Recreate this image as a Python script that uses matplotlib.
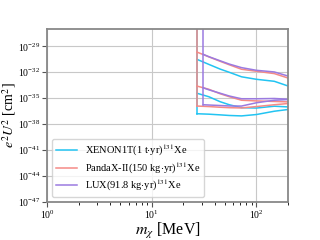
import matplotlib
matplotlib.use("Agg")
import matplotlib.pyplot as plt
from matplotlib.ticker import NullLocator

# masses in MeV and log10 of e^2 U^2 in cm^2
xenon_m = [27, 35, 45, 55, 72, 100, 148, 200]
xenon_top = [-30.50, -31.08, -31.63, -32.00, -32.52, -32.81, -33.04, -33.58]
xenon_mid = [-34.42, -34.82, -35.40, -35.75, -36.09, -36.13, -35.92, -36.00]
xenon_bot = [-36.79, -36.84, -36.92, -36.99, -37.04, -36.88, -36.50, -36.30]

panda_m = [27, 35, 45, 55, 72, 100, 148, 200]
panda_top = [-29.66, -30.21, -30.73, -31.13, -31.65, -31.88, -32.15, -32.66]
panda_mid = [-33.59, -33.96, -34.48, -34.82, -35.23, -35.31, -35.37, -35.42]
panda_bot = [-35.90, -35.96, -36.04, -36.09, -36.12, -35.96, -35.75, -35.61]

lux_m = [31, 35, 45, 55, 72, 100, 148, 200]
lux_top = [-29.92, -30.19, -30.67, -31.05, -31.46, -31.77, -31.96, -32.43]
lux_mid = [-33.79, -34.02, -34.42, -34.74, -35.06, -35.06, -35.03, -35.11]
lux_bot = [-35.75, -35.78, -35.84, -35.89, -35.90, -35.52, -35.23, -35.15]

labels = [r"XENON1T(1 t$\cdot$yr)$^{131}$Xe",
          r"PandaX-II(150 kg$\cdot$yr)$^{131}$Xe",
          r"LUX(91.8 kg$\cdot$yr)$^{131}$Xe"]
colors = ["#22c4f2", "#f58a86", "#9b7ae0"]

plt.rcParams["font.family"] = ["Liberation Serif", "DejaVu Serif"]
plt.rcParams["mathtext.fontset"] = "stix"

fig = plt.figure(figsize=(3.2, 2.4), dpi=100)
ax = fig.add_axes([0.147, 0.158, 0.753, 0.721])

sets = [
    (xenon_m, [xenon_top, xenon_mid, xenon_bot]),
    (panda_m, [panda_top, panda_mid, panda_bot]),
    (lux_m, [lux_top, lux_mid, lux_bot]),
]
for (m, curves), c, lab in zip(sets, colors, labels):
    ax.plot([m[0], m[0]], [1e-20, 10 ** curves[2][0]], color=c, lw=1.1, label=lab)
    for cv in curves:
        ax.plot(m, [10 ** v for v in cv], color=c, lw=1.1)

ax.set_xscale("log")
ax.set_yscale("log")
ax.set_xlim(1, 200)
ax.set_ylim(1e-47, 1e-27)
ax.set_yticks([1e-47, 1e-44, 1e-41, 1e-38, 1e-35, 1e-32, 1e-29])
ax.yaxis.set_minor_locator(NullLocator())
ax.grid(True, which="major", color="#c8c8c8", lw=0.8)
for s in ax.spines.values():
    s.set_color("#888888")
    s.set_linewidth(1.3)
ax.tick_params(labelsize=7, color="#555555", pad=1.5)
ax.set_xlabel(r"$m_\chi$ [MeV]", fontsize=11.5)
ax.set_ylabel(r"$e^2U^2$ [cm$^2$]", fontsize=10)
ax.xaxis.set_label_coords(0.5, -0.11)
ax.yaxis.set_label_coords(-0.12, 0.5)
ax.legend(loc="lower left", fontsize=7.5, handlelength=2.0, handletextpad=0.7,
          labelspacing=0.2)

fig.savefig("out.png", dpi=100)
